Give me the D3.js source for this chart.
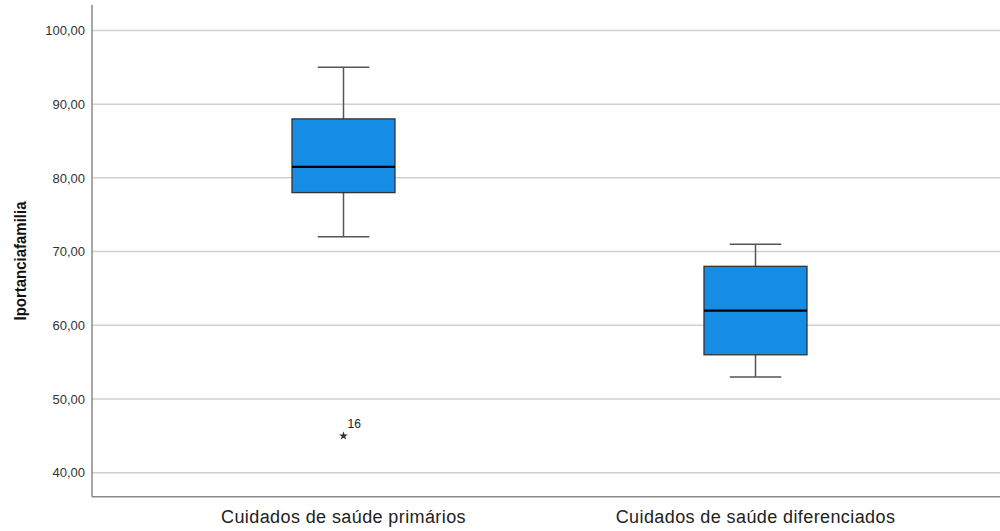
<!DOCTYPE html>
<html><head><meta charset="utf-8">
<script src="https://cdn.jsdelivr.net/npm/d3@7"></script>
<style>body{margin:0;background:#fff}svg{display:block}</style>
</head><body>
<script>
const categories = ["Cuidados de saúde primários", "Cuidados de saúde diferenciados"];
const whiskerLow = [72, 53];
const q1 = [78, 56];
const median = [81.5, 62];
const q3 = [88, 68];
const whiskerHigh = [95, 71];
const outliers = [{cat: 0, value: 45, label: "16"}];
const yTicks = [40, 50, 60, 70, 80, 90, 100];
const yLabel = "Iportanciafamilia";

(function () {
const W = 1000, H = 531;
const svg = d3.select("body").append("svg").attr("width", W).attr("height", H);
const pLeft = 92, pRight = 1000, pTop = 5, pBottom = 496.7;

const y = d3.scaleLinear().domain([36.75, 103.45]).range([pBottom, pTop]);
const x = d3.scaleBand().domain(categories).range([137.5, 961.5]).paddingInner(0).paddingOuter(0);
const bw = x.bandwidth() * 0.25;

// gridlines
svg.append("g").selectAll("line").data(yTicks).join("line")
  .attr("x1", pLeft).attr("x2", pRight)
  .attr("y1", d => y(d)).attr("y2", d => y(d))
  .attr("stroke", "#cfcfcf").attr("stroke-width", 1.5);

// y axis
const yAxis = d3.axisLeft(y).tickValues(yTicks).tickSize(0).tickPadding(7)
  .tickFormat(d => d3.format(".2f")(d).replace(".", ","));
const gy = svg.append("g").attr("transform", `translate(${pLeft},0)`).call(yAxis);
gy.select(".domain").remove();
gy.selectAll("text").attr("font-family", "Liberation Sans, Arial, sans-serif")
  .attr("font-size", 13).attr("fill", "#333");

// axis lines
svg.append("line").attr("x1", pLeft).attr("x2", pLeft).attr("y1", pTop).attr("y2", pBottom)
  .attr("stroke", "#888").attr("stroke-width", 1.5);
svg.append("line").attr("x1", pLeft).attr("x2", pRight).attr("y1", pBottom).attr("y2", pBottom)
  .attr("stroke", "#888").attr("stroke-width", 1.5);

// x axis labels
const xAxis = d3.axisBottom(x).tickSize(0).tickPadding(14);
const gx = svg.append("g").attr("transform", `translate(0,${pBottom})`).call(xAxis);
gx.select(".domain").remove();
gx.selectAll("text").attr("font-family", "Liberation Sans, Arial, sans-serif")
  .attr("font-size", 18).attr("fill", "#222").attr("letter-spacing", "0.4px");

// y label
svg.append("text").attr("transform", `translate(26,261) rotate(-90)`)
  .attr("text-anchor", "middle").attr("font-family", "Liberation Sans, Arial, sans-serif")
  .attr("font-weight", "bold").attr("font-size", 17).attr("fill", "#111")
  .attr("textLength", 119).attr("lengthAdjust", "spacingAndGlyphs")
  .text(yLabel);

// boxes
const g = svg.append("g");
categories.forEach((c, i) => {
  const cx = x(c) + x.bandwidth() / 2;
  const cap = bw / 2;
  g.append("line").attr("x1", cx).attr("x2", cx).attr("y1", y(whiskerHigh[i])).attr("y2", y(q3[i]))
    .attr("stroke", "#555").attr("stroke-width", 1.5);
  g.append("line").attr("x1", cx).attr("x2", cx).attr("y1", y(q1[i])).attr("y2", y(whiskerLow[i]))
    .attr("stroke", "#555").attr("stroke-width", 1.5);
  g.append("line").attr("x1", cx - cap / 2).attr("x2", cx + cap / 2).attr("y1", y(whiskerHigh[i])).attr("y2", y(whiskerHigh[i]))
    .attr("stroke", "#555").attr("stroke-width", 1.5);
  g.append("line").attr("x1", cx - cap / 2).attr("x2", cx + cap / 2).attr("y1", y(whiskerLow[i])).attr("y2", y(whiskerLow[i]))
    .attr("stroke", "#555").attr("stroke-width", 1.5);
  g.append("rect").attr("x", cx - bw / 2).attr("width", bw)
    .attr("y", y(q3[i])).attr("height", y(q1[i]) - y(q3[i]))
    .attr("fill", "#168de5").attr("stroke", "#333").attr("stroke-width", 1.3);
  g.append("line").attr("x1", cx - bw / 2).attr("x2", cx + bw / 2).attr("y1", y(median[i])).attr("y2", y(median[i]))
    .attr("stroke", "#000").attr("stroke-width", 2.2);
});

// outliers
outliers.forEach(o => {
  const cx = x(categories[o.cat]) + x.bandwidth() / 2;
  g.append("path").attr("d", d3.symbol(d3.symbolStar, 24)())
    .attr("transform", `translate(${cx},${y(o.value)})`).attr("fill", "#333");
  g.append("text").attr("x", cx + 4).attr("y", y(o.value) - 8)
    .attr("font-family", "Liberation Sans, Arial, sans-serif").attr("font-size", 12).attr("fill", "#222")
    .text(o.label);
});
})();
</script>
</body></html>
